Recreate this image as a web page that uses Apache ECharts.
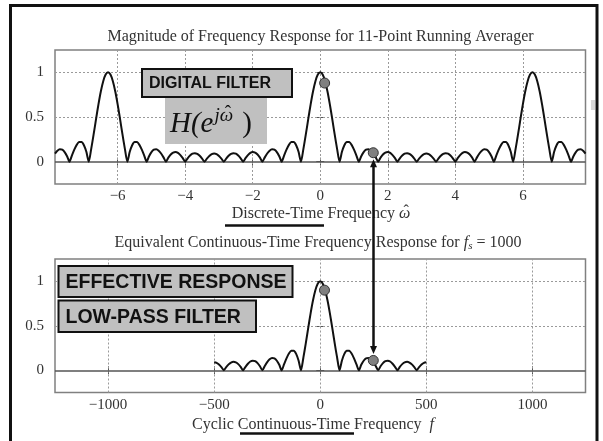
<!DOCTYPE html>
<html><head><meta charset="utf-8">
<script src="https://cdn.jsdelivr.net/npm/echarts@6/dist/echarts.min.js"></script>
<style>html,body{margin:0;padding:0;background:#fff}#c{width:603px;height:441px}</style>
</head><body><div id="c"></div>
<script>
// ---- data ----
const topTicks = [-6, -4, -2, 0, 2, 4, 6];
const bottomTicks = [-1000, -500, 0, 500, 1000];
const magTicks = [0, 0.5, 1];
const topRange = [-2.5 * Math.PI, 2.5 * Math.PI];   // rad
const bottomRange = [-1250, 1250];                  // Hz
const fsHz = 1000;
// |H| sampled every pi/44 rad from -2.5*pi to 2.5*pi
const topMagnitude = [
0.091,0.123,0.139,0.134,0.107,0.061,0,0.068,0.134,0.188,0.219,0.220,0.184,0.110,0,0.141,0.302,0.473,0.639,0.786,0.901,0.975,1.000,
0.975,0.901,0.786,0.639,0.473,0.302,0.141,0,0.110,0.184,0.220,0.219,0.188,0.134,0.068,0,0.061,0.107,0.134,0.139,0.123,0.091,0.048,0,0.045,0.080,0.102,0.108,0.098,0.073,0.039,0,0.038,0.069,0.089,0.095,0.087,0.066,0.035,0,0.035,0.064,0.084,0.091,
0.084,0.064,0.035,0,0.035,0.066,0.087,0.095,0.089,0.069,0.038,0,0.039,0.073,0.098,0.108,0.102,0.080,0.045,0,0.048,0.091,0.123,0.139,0.134,0.107,0.061,0,0.068,0.134,0.188,0.219,0.220,0.184,0.110,0,0.141,0.302,0.473,0.639,0.786,0.901,0.975,1.000,
0.975,0.901,0.786,0.639,0.473,0.302,0.141,0,0.110,0.184,0.220,0.219,0.188,0.134,0.068,0,0.061,0.107,0.134,0.139,0.123,0.091,0.048,0,0.045,0.080,0.102,0.108,0.098,0.073,0.039,0,0.038,0.069,0.089,0.095,0.087,0.066,0.035,0,0.035,0.064,0.084,0.091,
0.084,0.064,0.035,0,0.035,0.066,0.087,0.095,0.089,0.069,0.038,0,0.039,0.073,0.098,0.108,0.102,0.080,0.045,0,0.048,0.091,0.123,0.139,0.134,0.107,0.061,0,0.068,0.134,0.188,0.219,0.220,0.184,0.110,0,0.141,0.302,0.473,0.639,0.786,0.901,0.975,1.000,
0.975,0.901,0.786,0.639,0.473,0.302,0.141,0,0.110,0.184,0.220,0.219,0.188,0.134,0.068,0,0.061,0.107,0.134,0.139,0.123,0.091
];
// |H| sampled every fs/88 Hz from -500 to 500 Hz
const bottomMagnitude = [
0.091,
0.084,0.064,0.035,0,0.035,0.066,0.087,0.095,0.089,0.069,0.038,0,0.039,0.073,0.098,0.108,0.102,0.080,0.045,0,0.048,0.091,0.123,0.139,0.134,0.107,0.061,0,0.068,0.134,0.188,0.219,0.220,0.184,0.110,0,0.141,0.302,0.473,0.639,0.786,0.901,0.975,1.000,
0.975,0.901,0.786,0.639,0.473,0.302,0.141,0,0.110,0.184,0.220,0.219,0.188,0.134,0.068,0,0.061,0.107,0.134,0.139,0.123,0.091,0.048,0,0.045,0.080,0.102,0.108,0.098,0.073,0.039,0,0.038,0.069,0.089,0.095,0.087,0.066,0.035,0,0.035,0.064,0.084,0.091
];
const topDots = [[0.13, 0.88], [1.57, 0.1]];
const bottomDots = [[20, 0.9], [250, 0.11]];

// ---- build ----
const topStep = Math.PI / 44, topStart = -2.5 * Math.PI;
const botStep = fsHz / 88, botStart = -fsHz / 2;
const topData = topMagnitude.map((v, i) => [topStart + i * topStep, v]);
const botData = bottomMagnitude.map((v, i) => [botStart + i * botStep, v]);

const SERIF = 'Liberation Serif';
const SANS = 'Liberation Sans';
const fmt = v => (v < 0 ? '\u2212' + (-v) : String(v));
const mctx = document.createElement('canvas').getContext('2d');
function tw(font, text) { mctx.font = font; return mctx.measureText(text).width; }

function xAx(grid, range, ticks, pos) {
  const bottom = pos === 'bottom';
  return {
    type: 'value', gridIndex: grid, position: pos, min: range[0], max: range[1],
    axisLine: { show: false },
    axisTick: { show: true, inside: true, length: 4, customValues: ticks, lineStyle: { color: '#555', width: 1 } },
    axisLabel: { show: bottom, customValues: ticks, formatter: fmt, fontFamily: SERIF, fontSize: 15, color: '#333', margin: 5 },
    splitLine: { show: false }
  };
}
function yAx(grid, pos) {
  const left = pos === 'left';
  return {
    type: 'value', gridIndex: grid, position: pos, min: -0.25, max: 1.25,
    axisLine: { show: false },
    axisTick: { show: true, inside: true, length: 4, customValues: magTicks, lineStyle: { color: '#555', width: 1 } },
    axisLabel: { show: left, customValues: magTicks, formatter: fmt, fontFamily: SERIF, fontSize: 15, color: '#333', margin: 11 },
    splitLine: { show: false }
  };
}
const dotted = { type: [2, 2], color: '#9a9a9a', width: 1 };
function gridLines(xs) {
  return xs.map(v => ({ xAxis: v, lineStyle: dotted }))
    .concat([0.5, 1].map(v => ({ yAxis: v, lineStyle: dotted })))
    .concat([{ yAxis: 0, lineStyle: { type: 'solid', color: '#555', width: 1.5 } }]);
}
function curve(xi, yi, data, ticks) {
  return {
    type: 'line', xAxisIndex: xi, yAxisIndex: yi, data: data, showSymbol: false, smooth: 0.25,
    lineStyle: { color: '#111', width: 2 }, z: 3, clip: true,
    markLine: { silent: true, symbol: 'none', label: { show: false }, animation: false, data: gridLines(ticks), z: 1 }
  };
}
function dots(xi, yi, data) {
  return {
    type: 'scatter', xAxisIndex: xi, yAxisIndex: yi, data: data, symbolSize: 10, z: 5,
    itemStyle: { color: '#808080', borderColor: '#333', borderWidth: 1, opacity: 1 }
  };
}

const chart = echarts.init(document.getElementById('c'), null, { renderer: 'canvas' });
chart.setOption({
  animation: false,
  backgroundColor: '#fff',
  grid: [
    { left: 55, top: 50, width: 530.5, height: 134, show: true, borderColor: '#808080', borderWidth: 1.5 },
    { left: 55, top: 259, width: 530.5, height: 133.5, show: true, borderColor: '#808080', borderWidth: 1.5 }
  ],
  xAxis: [xAx(0, topRange, topTicks, 'bottom'), xAx(0, topRange, topTicks, 'top'),
          xAx(1, bottomRange, bottomTicks, 'bottom'), xAx(1, bottomRange, bottomTicks, 'top')],
  yAxis: [yAx(0, 'left'), yAx(0, 'right'), yAx(1, 'left'), yAx(1, 'right')],
  series: [
    curve(0, 0, topData, topTicks), curve(2, 2, botData, bottomTicks),
    dots(0, 0, topDots), dots(2, 2, bottomDots)
  ]
});

// ---- annotations ----
const pTop = chart.convertToPixel({ xAxisIndex: 0, yAxisIndex: 0 }, topDots[1]);
const pBot = chart.convertToPixel({ xAxisIndex: 2, yAxisIndex: 2 }, bottomDots[1]);
const ax = Math.round(pTop[0]) + 0.5;
const yA = pTop[1] + 6.5, yB = pBot[1] - 6.5;
const grayBox = '#c0c0c0';
function txt(x, y, text, font, fill, align, z) {
  return { type: 'text', x: x, y: y, z: z || 40, style: { text: text, font: font, fill: fill || '#333', textAlign: align || 'left', textVerticalAlign: 'middle' } };
}
function labelBox(x, y, w, h, text, size) {
  return [
    { type: 'rect', shape: { x: x, y: y, width: w, height: h }, style: { fill: grayBox, stroke: '#111', lineWidth: 2 }, z: 50 },
    txt(x + 7, y + h / 2 + 1, text, 'bold ' + size + 'px ' + SANS, '#111', 'left', 51)
  ];
}
// axis name "Discrete-Time Frequency ω̂"
const nmFont = '16px ' + SERIF, nmIt = 'italic 16px ' + SERIF;
const nmA = 'Discrete-Time Frequency ';
const nmW = tw(nmFont, nmA) + tw(nmIt, '\u03C9');
const nmL = 321 - nmW / 2;
const nmOx = nmL + tw(nmFont, nmA);
// H(e^{jω̂})
const hBig = 'italic 29px ' + SERIF, hUp = '29px ' + SERIF, hSup = 'italic 19px ' + SERIF;
const hx0 = 170;
const hx1 = hx0 + tw(hBig, 'H(e') + 1;
const hxw = hx1 + tw(hSup, 'j');
const hx2 = hxw + tw(hSup, '\u03C9') + 9;

chart.setOption({
  graphic: [
    // outer frame
    { type: 'polyline', shape: { points: [[10.5, 445], [10.5, 5.5], [597, 5.5], [597, 445]] }, style: { stroke: '#111', lineWidth: 3, fill: null }, z: 60 },
    { type: 'rect', shape: { x: 591, y: 100, width: 4, height: 10 }, style: { fill: '#d8d8d8' }, z: 60 },
    // titles
    txt(320.5, 37, 'Magnitude of Frequency Response for 11-Point Running Averager', '16px ' + SERIF, '#333', 'center'),
    { type: 'text', x: 318, y: 243, z: 40, style: {
        text: '{a|Equivalent Continuous-Time Frequency Response for }{i|f}{s|s}{a| = 1000}',
        textAlign: 'center', textVerticalAlign: 'middle',
        rich: { a: { font: '16px ' + SERIF, fill: '#333' }, i: { font: 'italic 16px ' + SERIF, fill: '#333' }, s: { font: 'italic 11px ' + SERIF, fill: '#333', verticalAlign: 'bottom', padding: [6, 0, 0, 0] } } } },
    // axis names
    txt(nmL, 214, nmA, nmFont, '#333'),
    txt(nmOx, 214, '\u03C9', nmIt, '#333'),
    txt(nmOx + tw(nmIt, '\u03C9') / 2 + 1.5, 212, '\u02C6', nmFont, '#333', 'center'),
    { type: 'line', shape: { x1: 225, y1: 225.5, x2: 324, y2: 225.5 }, style: { stroke: '#111', lineWidth: 2.5 }, z: 40 },
    { type: 'text', x: 313, y: 425, z: 40, style: {
        text: '{a|Cyclic Continuous-Time Frequency  }{i|f}', textAlign: 'center', textVerticalAlign: 'middle',
        rich: { a: { font: '16px ' + SERIF, fill: '#333' }, i: { font: 'italic 16px ' + SERIF, fill: '#333' } } } },
    { type: 'line', shape: { x1: 240, y1: 433.5, x2: 354, y2: 433.5 }, style: { stroke: '#111', lineWidth: 2.5 }, z: 40 },
    // H(e^{jω̂}) box
    { type: 'rect', shape: { x: 165, y: 96, width: 102, height: 48 }, style: { fill: grayBox }, z: 45 },
    txt(hx0, 124, 'H(e', hBig, '#111', 'left', 46),
    txt(hx1, 116, 'j\u03C9', hSup, '#111', 'left', 46),
    txt(hxw + tw(hSup, '\u03C9') / 2 + 1.5, 113, '\u02C6', '19px ' + SERIF, '#111', 'center', 46),
    txt(hx2, 124, ')', hUp, '#111', 'left', 46),
    ...labelBox(142, 69, 150, 28, 'DIGITAL FILTER', 16),
    ...labelBox(58.5, 266, 234, 31, 'EFFECTIVE RESPONSE', 19.5),
    ...labelBox(58.5, 300.5, 197.5, 31.5, 'LOW-PASS FILTER', 19.5),
    // double-headed arrow linking the two dots
    { type: 'line', shape: { x1: ax, y1: yA + 5, x2: ax, y2: yB - 5 }, style: { stroke: '#111', lineWidth: 2.5 }, z: 55 },
    { type: 'polygon', shape: { points: [[ax, yA], [ax - 3.5, yA + 8], [ax + 3.5, yA + 8]] }, style: { fill: '#111' }, z: 55 },
    { type: 'polygon', shape: { points: [[ax, yB], [ax - 3.5, yB - 8], [ax + 3.5, yB - 8]] }, style: { fill: '#111' }, z: 55 }
  ]
});
</script>
</body></html>
